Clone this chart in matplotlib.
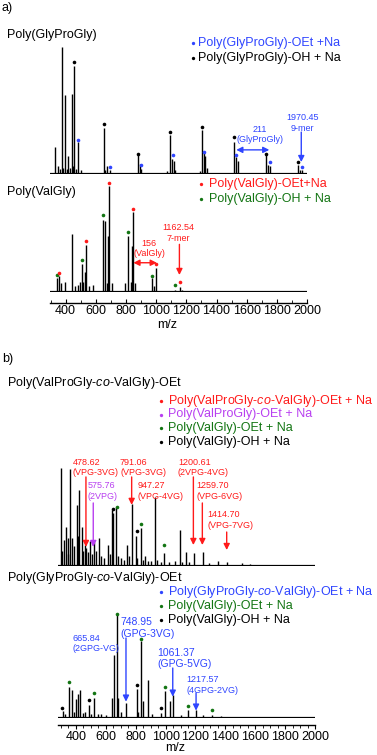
import numpy as np
import matplotlib.pyplot as plt
from matplotlib import transforms
from matplotlib.lines import Line2D
from matplotlib.ticker import MultipleLocator

plt.rcParams['font.family'] = ['Liberation Sans', 'DejaVu Sans']
plt.rcParams['mathtext.fontset'] = 'custom'
plt.rcParams['mathtext.rm'] = 'Liberation Sans'
plt.rcParams['mathtext.it'] = 'Liberation Sans:italic'

BLUE = '#2f45ff'
RED = '#ff1a1a'
GREEN = '#137513'
PURPLE = '#b83ff0'
BLACK = '#000000'

W, H = 377, 755

# ---- a) Poly(GlyProGly)
gpg_mz = [329, 351, 362, 373, 384, 395, 406, 417, 428, 440, 448, 457, 468, 480, 500,
          652, 660, 672, 694, 882, 893, 902, 1071, 1093, 1104, 1116, 1126,
          1292, 1305, 1316, 1327, 1336, 1518, 1531, 1542, 1728, 1741, 1752,
          1940, 1956, 1966]
gpg_int = [21, 6, 4, 100, 5, 62, 4, 14, 5, 63, 6, 85, 4, 25, 3,
           36, 3, 6, 3, 16, 8, 4, 2, 31, 12, 10, 3,
           2, 35, 18, 14, 5, 25, 13, 10, 16, 7, 6,
           7, 3, 3]
gpg_oh_mz = [457, 652, 882, 1093, 1305, 1518, 1728, 1940]
gpg_oh_int = [85, 36, 12.6, 30, 34, 26, 12.6, 6]
gpg_oet_mz = [480, 694, 902, 1110, 1316, 1531, 1752, 1966]
gpg_oet_int = [24, 2.6, 4, 12, 14, 12, 6.5, 2.6]

# ---- a) Poly(ValGly)
vg_mz = [344, 358, 369, 395, 440, 462, 480, 495, 506, 517, 528, 535, 557, 579,
         650, 659, 672, 683, 690, 705, 794, 816, 832, 838, 849, 860,
         971, 986, 1002, 1126, 1159, 1170, 1292, 1314]
vg_int = [13, 15, 8, 9, 55, 5, 6, 9, 26, 9, 19, 44, 5, 6,
          68, 67, 8, 53, 100, 8, 8, 53, 9, 43, 75, 8,
          13, 5, 22, 2, 4, 2, 1, 1]
vg_oet_mz = [358, 535, 690, 849, 1002, 1159]
vg_oet_int = [14, 44, 99, 74, 22, 5]
vg_oh_mz = [344, 506, 650, 816, 971, 1126]
vg_oh_int = [12, 26, 69, 53, 11, 3]

# ---- b) Poly(ValProGly-co-ValGly)-OEt
vpg_mz = [300, 310, 320, 333, 344, 350, 360, 375, 388, 405, 415, 422, 438, 447, 460,
          470, 480, 494, 505, 523, 535, 556, 570, 590, 612, 625, 639, 650, 668, 683,
          700, 720, 739, 755, 773, 805, 810, 835, 850, 862, 880, 905, 929, 945, 970,
          992, 1020, 1060, 1096, 1110, 1136, 1160, 1190, 1248, 1290, 1352, 1409,
          1509, 1565]
vpg_int = [100, 15, 26, 40, 28, 12, 98, 28, 20, 62, 30, 77, 40, 15, 21,
           18, 14, 25, 12, 24, 15, 28, 10, 8, 21, 12, 57, 54, 60, 10,
           8, 6, 21, 10, 63, 30, 8, 39, 6, 10, 5, 5, 70, 6, 4,
           13, 4, 5, 37, 4, 14, 4, 13, 14, 3, 5, 4,
           3, 2]
vpg_oh_mz = [650, 807]
vpg_oh_int = [54, 31]
vpg_vg_mz = [673, 834, 992]
vpg_vg_int = [56, 39, 17]

# ---- b) Poly(GlyProGly-co-ValGly)-OEt
gvg_mz = [316, 330, 355, 371, 385, 400, 415, 427, 445, 460, 489, 500, 523, 545, 570,
          600, 643, 656, 672, 683, 699, 733, 806, 817, 835, 850, 880, 910, 969,
          996, 1029, 1051, 1100, 1151, 1203, 1250, 1308, 1370]
gvg_int = [6, 3, 29, 27, 5, 18, 23, 27, 4, 5, 12, 3, 19, 3, 3,
           2, 19, 60, 100, 19, 5, 14, 28, 5, 74, 16, 36, 3, 4,
           26, 16, 22, 2, 7, 7, 2, 2, 1]
gvg_oh_mz = [309, 489, 807, 969]
gvg_oh_int = [5, 13, 28, 5]
gvg_vg_mz = [355, 523, 673, 836, 996, 1152, 1309]
gvg_vg_int = [30, 19.5, 96, 72, 26, 7, 3]

xticks = [400, 600, 800, 1000, 1200, 1400, 1600, 1800, 2000]


def px_axes(fig, left, top, right, bottom):
	return fig.add_axes([left / W, 1 - bottom / H, (right - left) / W, (bottom - top) / H])


def draw_spectrum(ax, mz, inten, xlim):
	ax.vlines(mz, 0, inten, color=BLACK, lw=1.0)
	ax.axhline(0, color=BLACK, lw=1.6)
	ax.set_xlim(xlim)
	ax.set_ylim(0, 100)
	ax.set_yticks([])
	for side in ['left', 'right', 'top']:
		ax.spines[side].set_visible(False)
	ax.patch.set_alpha(0)


def hide_xaxis(ax):
	ax.spines['bottom'].set_visible(False)
	ax.set_xticks([])


def xaxis(ax, offset, direction, minor):
	ax.spines['bottom'].set_position(('outward', offset))
	ax.spines['bottom'].set_linewidth(1.0)
	ax.set_xticks(xticks)
	ax.set_xticklabels([str(t) for t in xticks])
	ax.xaxis.set_minor_locator(MultipleLocator(minor))
	ax.tick_params(axis='x', which='major', direction=direction, length=3, width=0.8,
	               pad=1.5, labelsize=9)
	ax.tick_params(axis='x', which='minor', direction=direction, length=2, width=0.6)


def dots(fig, ax, mz, inten, color):
	trans = transforms.offset_copy(ax.transData, fig=fig, x=0, y=4, units='dots')
	ax.plot(mz, inten, 'o', ms=2.6, color=color, mec='none', transform=trans, clip_on=False)


def arrow(ax, x, y0, y1, color, style='-|>'):
	ax.annotate('', xy=(x, y1), xytext=(x, y0),
	            arrowprops=dict(arrowstyle=style, color=color, lw=1.0, mutation_scale=9,
	                            shrinkA=0, shrinkB=0),
	            annotation_clip=False)


def harrow(ax, x0, x1, y, color):
	ax.annotate('', xy=(x1, y), xytext=(x0, y),
	            arrowprops=dict(arrowstyle='<|-|>', color=color, lw=1.0, mutation_scale=9,
	                            shrinkA=0, shrinkB=0),
	            annotation_clip=False)


def label(ax, x, y, s, color, size=6.5, ha='left'):
	ax.text(x, y, s, color=color, fontsize=size, ha=ha, va='center', linespacing=1.2,
	        clip_on=False)


def ftext(x, y, s, color=BLACK, size=9, **kw):
	fig.text(x / W, 1 - y / H, s, color=color, fontsize=size, va='center', **kw)


def legend(x_dot, x_txt, y0, step, entries):
	for i, (s, c) in enumerate(entries):
		y = y0 + i * step
		fig.add_artist(Line2D([x_dot / W], [1 - y / H], marker='o', ms=2.4, color=c,
		                      mec='none', transform=fig.transFigure))
		ftext(x_txt, y, s, c)


fig = plt.figure(figsize=(W / 100, H / 100), dpi=100)

# a) top
ax1 = px_axes(fig, 50, 47, 307, 174)
draw_spectrum(ax1, gpg_mz, gpg_int, (296, 2000))
hide_xaxis(ax1)
dots(fig, ax1, gpg_oh_mz, gpg_oh_int, BLACK)
dots(fig, ax1, gpg_oet_mz, gpg_oet_int, BLUE)
harrow(ax1, 1531, 1750, 19, BLUE)
label(ax1, 1690, 31, '211\n(GlyProGly)', BLUE, ha='center')
label(ax1, 1969, 40, '1970.45\n9-mer', BLUE, ha='center')
arrow(ax1, 1962, 33, 9.4, BLUE)

# a) bottom
ax2 = px_axes(fig, 50, 186, 307, 291.7)
draw_spectrum(ax2, vg_mz, vg_int, (296, 2000))
xaxis(ax2, 7.9, 'in', 100)
dots(fig, ax2, vg_oh_mz, vg_oh_int, GREEN)
dots(fig, ax2, vg_oet_mz, vg_oet_int, RED)
harrow(ax2, 849, 1004, 27.4, RED)
label(ax2, 953, 40.6, '156\n(ValGly)', RED, ha='center')
label(ax2, 1148, 55.5, '1162.54\n7-mer', RED, ha='center')
arrow(ax2, 1154, 44.8, 15.8, RED)

# b) top
ax3 = px_axes(fig, 58, 467.5, 315, 566)
draw_spectrum(ax3, vpg_mz, vpg_int, (280, 2000))
hide_xaxis(ax3)
dots(fig, ax3, vpg_oh_mz, vpg_oh_int, BLACK)
dots(fig, ax3, vpg_vg_mz, vpg_vg_int, GREEN)
label(ax3, 376, 99.8, '478.62\n(VPG-3VG)', RED)
arrow(ax3, 467, 90.4, 19.3, RED)
label(ax3, 479, 76, '575.76\n(2VPG)', PURPLE)
arrow(ax3, 516, 64, 19.3, PURPLE)
label(ax3, 695, 99.8, '791.06\n(VPG-3VG)', RED)
arrow(ax3, 773, 90.4, 62, RED)
label(ax3, 813, 76, '947.27\n(VPG-4VG)', RED)
label(ax3, 1083, 99.8, '1200.61\n(2VPG-4VG)', RED)
arrow(ax3, 1186, 90.4, 21.3, RED)
label(ax3, 1208, 76, '1259.70\n(VPG-6VG)', RED)
arrow(ax3, 1246, 64, 21.3, RED)
label(ax3, 1282, 46.7, '1414.70\n(VPG-7VG)', RED)
arrow(ax3, 1409, 34.5, 16.2, RED)

# b) bottom
ax4 = px_axes(fig, 58, 614, 315, 717.5)
draw_spectrum(ax4, gvg_mz, gvg_int, (280, 2000))
xaxis(ax4, 5.4, 'out', 50)
dots(fig, ax4, gvg_oh_mz, gvg_oh_int, BLACK)
dots(fig, ax4, gvg_vg_mz, gvg_vg_int, GREEN)
label(ax4, 378, 71.7, '665.84\n(2GPG-VG)', BLUE)
label(ax4, 695, 86.2, '748.95\n(GPG-3VG)', BLUE, size=7.5)
arrow(ax4, 735, 76.8, 15.3, BLUE)
label(ax4, 947, 57, '1061.37\n(GPG-5VG)', BLUE, size=7.5)
arrow(ax4, 1048, 47.8, 20.1, BLUE)
label(ax4, 1141, 31.4, '1217.57\n(4GPG-2VG)', BLUE)
arrow(ax4, 1204, 23.7, 6.6, BLUE)

# panel letters, titles, legends
ftext(2, 8, 'a)')
ftext(7, 35, 'Poly(GlyProGly)')
legend(193, 198, 43, 15, [('Poly(GlyProGly)-OEt +Na', BLUE),
                          ('Poly(GlyProGly)-OH + Na', BLACK)])
ftext(7, 192, 'Poly(ValGly)')
legend(201, 209, 184, 15, [('Poly(ValGly)-OEt+Na', RED),
                           ('Poly(ValGly)-OH + Na', GREEN)])
ftext(167, 325, 'm/z', ha='center')

ftext(2, 359, 'b)')
ftext(7, 383, 'Poly(ValProGly-$\\it{co}$-ValGly)-OEt')
legend(161, 168, 400.7, 13.8, [('Poly(ValProGly-$\\it{co}$-ValGly)-OEt + Na', RED),
                               ('Poly(ValProGly)-OEt + Na', PURPLE),
                               ('Poly(ValGly)-OEt + Na', GREEN),
                               ('Poly(ValGly)-OH + Na', BLACK)])
ftext(7, 578, 'Poly(GlyProGly-$\\it{co}$-ValGly)-OEt')
legend(161, 168, 592.3, 13.8, [('Poly(GlyProGly-$\\it{co}$-ValGly)-OEt + Na', BLUE),
                               ('Poly(ValGly)-OEt + Na', GREEN),
                               ('Poly(ValGly)-OH + Na', BLACK)])
ftext(175, 748, 'm/z', ha='center')

fig.savefig('out.png', dpi=100)
